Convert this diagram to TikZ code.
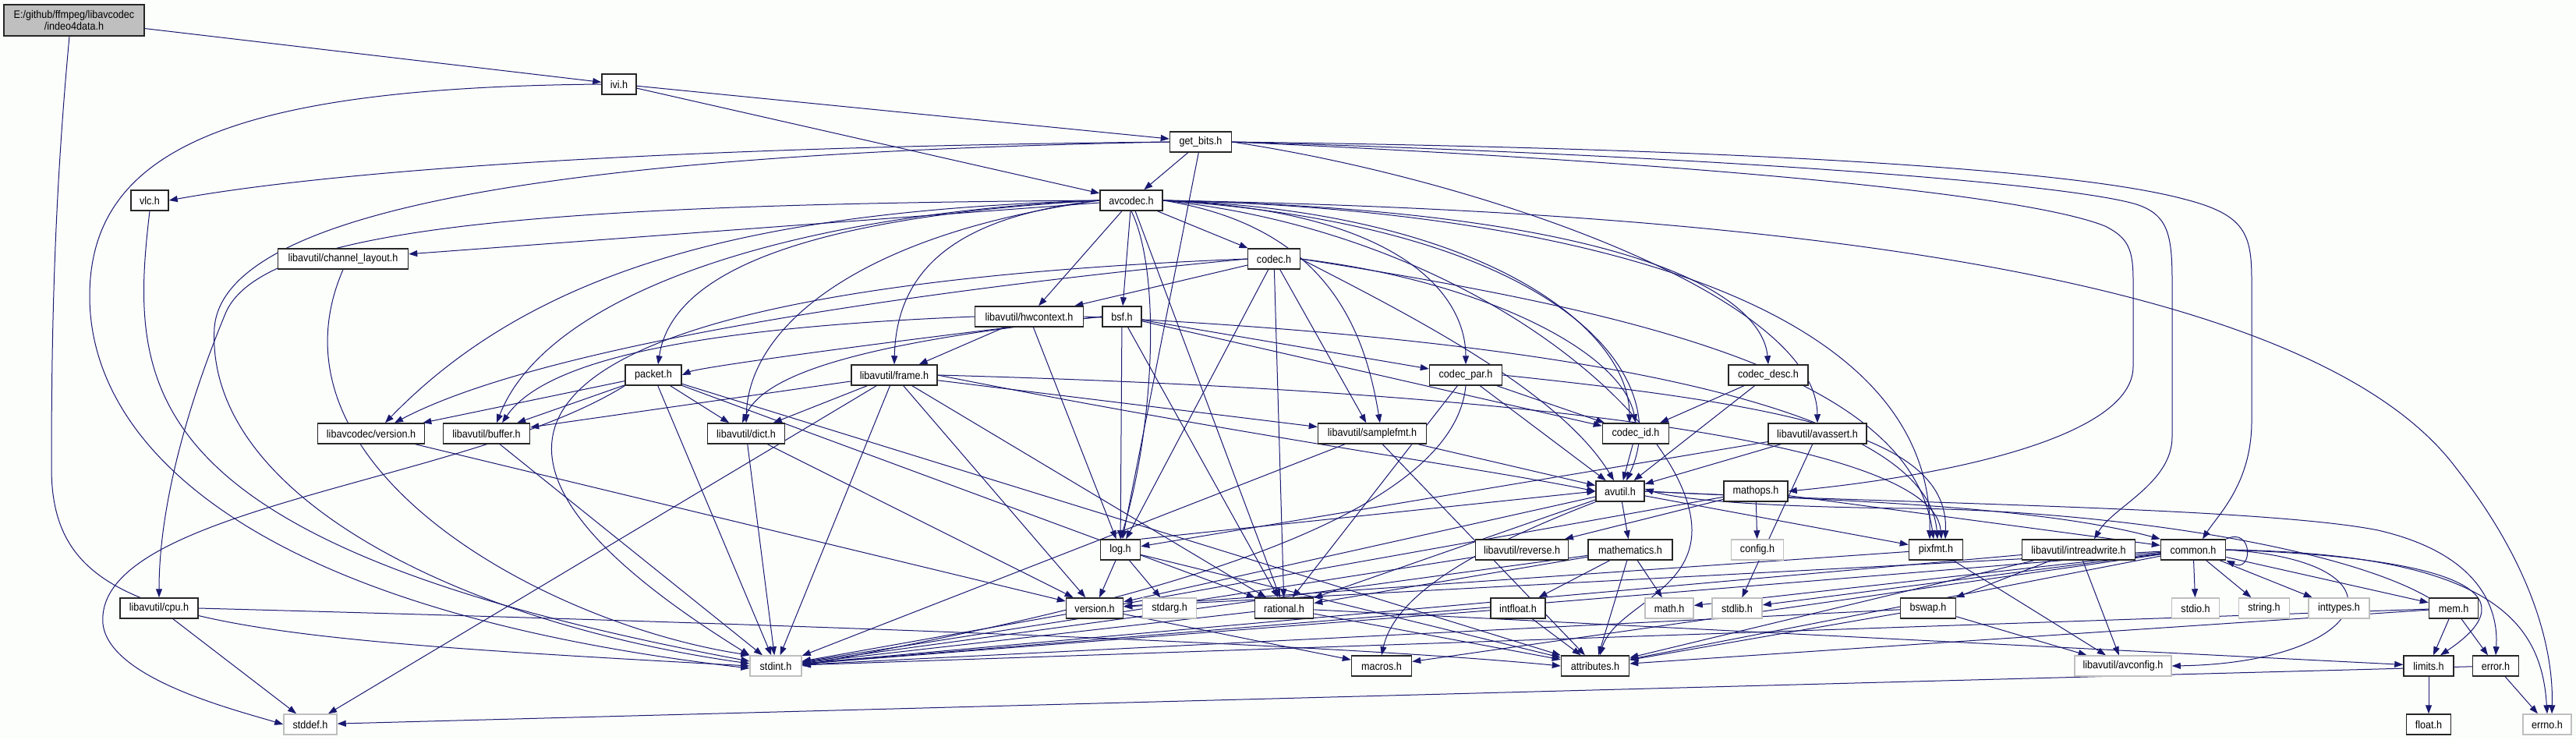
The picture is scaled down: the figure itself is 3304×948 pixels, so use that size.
\documentclass[tikz,border=0pt]{standalone}
\usepackage{fontspec}
\usepackage{tikz}
\usetikzlibrary{arrows.meta,backgrounds}
\newfontfamily\hdrfont{Liberation Sans}[FakeStretch=0.9]
\definecolor{edgeblue}{HTML}{191970}
\definecolor{rootgray}{HTML}{BFBFBF}
\definecolor{paper}{HTML}{FCFEFC}
\tikzset{
  hdr/.style    ={draw=black!85, line width=1.5pt, fill=white, inner sep=0pt,
                  font=\hdrfont\fontsize{14}{15}\selectfont, minimum height=26pt, minimum width=#1},
  syshdr/.style ={hdr=#1, draw=rootgray},
  roothdr/.style={hdr=#1, fill=rootgray, minimum height=40pt, align=center},
  incl/.style   ={draw=edgeblue, line width=1pt, -{Triangle[length=11pt,width=8pt]}},
}
\begin{document}
\begin{tikzpicture}[x=1pt,y=-1pt]
\useasboundingbox (0,0) rectangle (3304,948);

% ---- headers
\node[roothdr=180] (root) at (95,26) {E:/github/ffmpeg/libavcodec\\/indeo4data.h};
\node[hdr=44]  (ivi)      at (794,108)  {ivi.h};
\node[hdr=79]  (getbits)  at (1540,182) {get\_bits.h};
\node[hdr=48]  (vlc)      at (192,257)  {vlc.h};
\node[hdr=80]  (avcodec)  at (1451,257) {avcodec.h};
\node[hdr=167] (chlayout) at (440,332)  {libavutil/channel\_layout.h};
\node[hdr=67]  (codec)    at (1634,332) {codec.h};
\node[hdr=139] (hwctx)    at (1320,406) {libavutil/hwcontext.h};
\node[hdr=50]  (bsf)      at (1439,406) {bsf.h};
\node[hdr=72]  (packet)   at (838,481)  {packet.h};
\node[hdr=110] (frame)    at (1147,481) {libavutil/frame.h};
\node[hdr=93]  (codecpar) at (1880,481) {codec\_par.h};
\node[hdr=102] (codecdesc) at (2268,481) {codec\_desc.h};
\node[hdr=137] (lavcver)  at (476,556)  {libavcodec/version.h};
\node[hdr=111] (buffer)   at (624,556)  {libavutil/buffer.h};
\node[hdr=99]  (dict)     at (957,556)  {libavutil/dict.h};
\node[hdr=139] (samplefmt) at (1760,556) {libavutil/samplefmt.h};
\node[hdr=85]  (codecid)  at (2098,556) {codec\_id.h};
\node[hdr=126] (avassert) at (2331,556) {libavutil/avassert.h};
\node[hdr=62]  (avutil)   at (2078,630) {avutil.h};
\node[hdr=82]  (mathops)  at (2252,630) {mathops.h};
\node[hdr=51]  (log)      at (1437,705) {log.h};
\node[hdr=119] (reverse)  at (1952,705) {libavutil/reverse.h};
\node[hdr=108] (mathematics) at (2091,705) {mathematics.h};
\node[syshdr=67] (config) at (2254,705) {config.h};
\node[hdr=69]  (pixfmt)   at (2483,705) {pixfmt.h};
\node[hdr=145] (intrw)    at (2666,705) {libavutil/intreadwrite.h};
\node[hdr=83]  (common)   at (2813,705) {common.h};
\node[hdr=100] (cpu)      at (204,780)  {libavutil/cpu.h};
\node[hdr=73]  (version)  at (1404,780) {version.h};
\node[syshdr=69] (stdarg) at (1500,780) {stdarg.h};
\node[hdr=75]  (rational) at (1647,780) {rational.h};
\node[hdr=70]  (intfloat) at (1947,780) {intfloat.h};
\node[syshdr=62] (math)   at (2141,780) {math.h};
\node[syshdr=64] (stdlib) at (2228,780) {stdlib.h};
\node[hdr=71]  (bswap)    at (2473,780) {bswap.h};
\node[syshdr=61] (stdio)  at (2816,780) {stdio.h};
\node[syshdr=65] (string) at (2904,780) {string.h};
\node[syshdr=78] (inttypes) at (3000,780) {inttypes.h};
\node[hdr=63]  (mem)      at (3147,780) {mem.h};
\node[syshdr=66] (stdint) at (995,854)  {stdint.h};
\node[hdr=77]  (macros)   at (1772,854) {macros.h};
\node[hdr=87]  (attributes) at (2046,854) {attributes.h};
\node[syshdr=124] (avconfig) at (2723,854) {libavutil/avconfig.h};
\node[hdr=64]  (limits)   at (3115,854) {limits.h};
\node[hdr=59]  (error)    at (3201,854) {error.h};
\node[syshdr=68] (stddef) at (398,929)  {stddef.h};
\node[hdr=57]  (float)    at (3115,929) {float.h};
\node[syshdr=62] (errno)  at (3267,929) {errno.h};

\begin{scope}[on background layer]
\fill[paper] (0,0) rectangle (3304,948);

% ---- short includes
\foreach \a/\b in {root/ivi, ivi/getbits, ivi/avcodec, getbits/avcodec, getbits/log,
    avcodec/chlayout, avcodec/hwctx, avcodec/bsf, avcodec/codec, avcodec/rational,
    codec/hwctx, codec/log, codec/rational, codec/samplefmt,
    hwctx/frame, hwctx/log, bsf/log, bsf/rational, bsf/codecid, bsf/codecpar,
    packet/lavcver, packet/buffer, packet/dict, packet/stdint, packet/attributes, packet/rational,
    frame/stddef, frame/stdint, frame/buffer, frame/dict, frame/rational, frame/samplefmt, frame/version,
    dict/stdint, dict/version, buffer/stdint, lavcver/version, cpu/stddef,
    codecpar/avutil, codecpar/rational, codecpar/codecid,
    codecdesc/avutil, codecdesc/codecid, codecid/avutil,
    samplefmt/stdint, samplefmt/avutil, samplefmt/attributes,
    avassert/stdlib, avassert/avutil, avassert/log,
    mathops/stdint, mathops/config, mathops/common, mathops/reverse,
    avutil/version, avutil/mathematics, avutil/rational, avutil/pixfmt,
    log/stdarg, log/version, log/attributes, version/macros,
    rational/stdint, rational/limits, rational/attributes,
    mathematics/stdint, mathematics/math, mathematics/attributes, mathematics/rational, mathematics/intfloat,
    intfloat/stdint, intfloat/attributes, reverse/stdint,
    pixfmt/avconfig, pixfmt/version,
    intrw/stdint, intrw/avconfig, intrw/attributes, intrw/bswap,
    bswap/stdint, bswap/avconfig, bswap/attributes,
    common/inttypes, common/stdio, common/string, common/math, common/stdlib,
    common/stdint, common/attributes, common/macros, common/version, common/mem,
    mem/limits, mem/error, mem/stdint, mem/attributes,
    error/errno, error/stddef, limits/float}
  \draw[incl] (\a) -- (\b);

% ---- long includes, routed round the others
\draw[incl] ([xshift=-6pt]root.south) .. controls (70,250) and (66,420) .. (66,600)
  .. controls (66,800) and (250,815) .. (stdint.west);
\draw[incl] (ivi.west) .. controls (300,112) and (115,190) .. (115,380)
  .. controls (115,560) and (300,780) .. ([yshift=-3pt]stdint.west);
\draw[incl] (getbits.west) .. controls (900,188) and (450,215) .. (vlc.east);
\draw[incl] (getbits.west) .. controls (900,194) and (290,240) .. (275,420)
  .. controls (262,640) and (600,800) .. ([yshift=3pt]stdint.west);
\draw[incl] (vlc.south) .. controls (165,500) and (170,700) .. ([yshift=6pt]stdint.west);
\draw[incl] (getbits.east) .. controls (2200,190) and (2650,215) .. (2800,255)
  .. controls (2880,275) and (2888,300) .. (2888,360) -- (2888,540)
  .. controls (2888,620) and (2845,660) .. ([xshift=12pt]common.north);
\draw[incl] (getbits.east) .. controls (2200,200) and (2650,235) .. (2740,262)
  .. controls (2780,275) and (2786,300) .. (2786,360) -- (2786,560)
  .. controls (2786,620) and (2710,650) .. ([xshift=20pt]intrw.north);
\draw[incl] (getbits.east) .. controls (2200,210) and (2600,250) .. (2700,290)
  .. controls (2730,305) and (2736,320) .. (2736,360) -- (2736,470)
  .. controls (2736,560) and (2500,610) .. (mathops.east);
\draw[incl] (getbits.east) .. controls (1900,230) and (2330,380) .. (avassert.north);

\draw[incl] (avcodec.west) .. controls (700,262) and (340,290) .. (290,400)
  .. controls (240,520) and (204,650) .. (cpu.north);
\draw[incl] (avcodec.west) .. controls (1000,270) and (700,330) .. ([xshift=18pt]lavcver.north);
\draw[incl] (avcodec.west) .. controls (1000,275) and (700,380) .. ([xshift=13pt]buffer.north);
\draw[incl] (avcodec.west) .. controls (1000,280) and (860,360) .. ([xshift=6pt]packet.north);
\draw[incl] (avcodec.west) .. controls (1100,300) and (960,420) .. (dict.north);
\draw[incl] (avcodec.west) .. controls (1250,275) and (1150,330) .. (frame.north);
\draw[incl] (avcodec.south) .. controls (1490,350) and (1480,550) .. (log.north);
\draw[incl] (avcodec.east) .. controls (1800,270) and (1880,380) .. (codecpar.north);
\draw[incl] (avcodec.east) .. controls (2100,270) and (2260,380) .. (codecdesc.north);
\draw[incl] (avcodec.east) .. controls (1900,270) and (2090,420) .. ([xshift=-8pt]codecid.north);
\draw[incl] (avcodec.east) .. controls (1700,290) and (1750,420) .. ([xshift=10pt]samplefmt.north);
\draw[incl] (avcodec.east) .. controls (2000,290) and (2150,480) .. ([xshift=8pt]avutil.north);
\draw[incl] (avcodec.east) .. controls (1900,265) and (2480,350) .. ([xshift=-8pt]pixfmt.north);
\draw[incl] (avcodec.east) .. controls (1900,300) and (2170,550) .. (2170,680)
  .. controls (2170,760) and (2070,780) .. ([xshift=6pt]attributes.north);
\draw[incl] (avcodec.east) .. controls (2500,275) and (3000,400) .. (3150,600)
  .. controls (3260,740) and (3275,850) .. ([xshift=6pt]errno.north);

\draw[incl] (codec.west) .. controls (900,360) and (380,480) .. (stdint.north west);
\draw[incl] (codec.west) .. controls (1200,370) and (700,440) .. ([xshift=30pt]lavcver.north);
\draw[incl] (codec.east) .. controls (1800,400) and (2000,500) .. ([xshift=-8pt]avutil.north);
\draw[incl] (codec.east) .. controls (1900,360) and (2080,450) .. (codecid.north);
\draw[incl] (codec.east) .. controls (2100,400) and (2450,480) .. ([xshift=-3pt]pixfmt.north);

\draw[incl] (hwctx.west) .. controls (900,420) and (700,460) .. ([xshift=20pt]buffer.north);
\draw[incl] (hwctx.east) .. controls (1900,430) and (2470,500) .. ([xshift=2pt]pixfmt.north);
\draw[incl] (bsf.west) .. controls (1200,430) and (900,470) .. (packet.east);
\draw[incl] (bsf.west) .. controls (1100,440) and (980,480) .. ([xshift=-5pt]dict.north);

\draw[incl] (packet.south west) .. controls (600,620) and (120,650) .. (132,800)
  .. controls (140,870) and (300,910) .. (stddef.west);
\draw[incl] (frame.east) .. controls (1600,560) and (1900,600) .. (avutil.west);
\draw[incl] (frame.east) .. controls (1900,500) and (2480,560) .. ([xshift=7pt]pixfmt.north);
\draw[incl] (chlayout.south) .. controls (330,600) and (700,800) .. (stdint.north west);
\draw[incl] (cpu.east) .. controls (1000,800) and (1700,825) .. (attributes.west);

\draw[incl] (codecpar.south) .. controls (1860,700) and (1300,800) .. (stdint.east);
\draw[incl] (codecpar.east) .. controls (2300,520) and (2500,560) .. ([xshift=12pt]pixfmt.north);

\draw[incl] (avutil.east) .. controls (2300,640) and (2600,645) .. (common.north west);
\draw[incl] (avutil.east) .. controls (2400,645) and (2900,650) .. (3050,680)
  .. controls (3180,710) and (3205,780) .. (error.north);
\draw[incl] (mem.north west) .. controls (3000,700) and (2700,655) .. (2450,652)
  .. controls (2250,650) and (2150,640) .. ([yshift=3pt]avutil.east);
\draw[incl] (avutil.south west) .. controls (1900,700) and (1790,760) .. (macros.north);
\draw[incl] (log.north east) -- (avutil.west);

\draw[incl] (common.east) .. controls (3200,710) and (3260,800) .. (errno.north);
\draw[incl] (common.east) .. controls (3150,715) and (3250,760) .. ([xshift=15pt]limits.north);
\draw[incl] (common.east) .. controls (3100,720) and (3040,850) .. (avconfig.east);
\draw[incl] (common.north east) .. controls (2890,675) and (2890,735) .. (common.south east);
\end{scope}
\end{tikzpicture}
\end{document}
